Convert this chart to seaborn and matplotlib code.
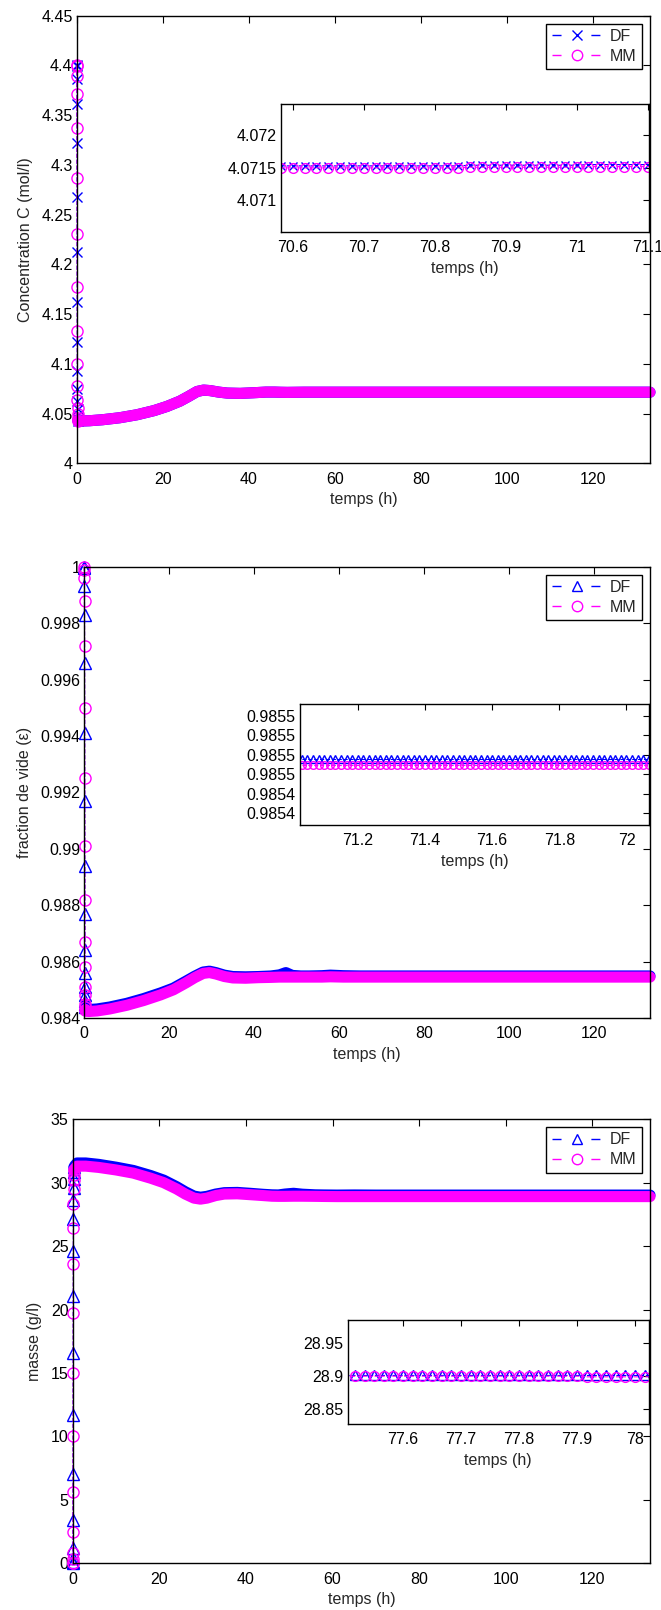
import numpy as np
import matplotlib
matplotlib.use("Agg")
import matplotlib.pyplot as plt
from matplotlib.lines import Line2D
import seaborn as sns

sns.set_theme(style="white")
plt.rcParams['font.family'] = ['Liberation Sans', 'DejaVu Sans']

# ---------------- données ----------------
# début du transitoire (t en h, pas d'une minute)
t_early = [0, 0.017, 0.033, 0.05, 0.067, 0.083, 0.1, 0.117, 0.133, 0.15,
           0.167, 0.183, 0.2, 0.217, 0.233, 0.25]
# reste de la courbe (bande épaisse de marqueurs)
t_band = [0.5, 1, 3, 6, 10, 14, 18, 21, 24, 26, 28, 29.5, 31, 33, 35,
          38, 41, 44, 46, 47.5, 49, 51, 53, 56, 58, 61, 65, 70, 80, 90,
          100, 110, 120, 133.3]

# concentration C (mol/l)
c_df_early = [4.4, 4.399, 4.386, 4.361, 4.322, 4.268, 4.212, 4.162, 4.122, 4.093,
              4.075, 4.063, 4.055, 4.049, 4.045, 4.043]
c_mm_early = [4.4, 4.399, 4.389, 4.371, 4.337, 4.287, 4.231, 4.177, 4.133, 4.1,
              4.078, 4.064, 4.056, 4.05, 4.046, 4.043]
# DF et MM confondus sur cette partie
c_band = [4.0428, 4.0425, 4.0428, 4.0438, 4.0458, 4.0488, 4.0530, 4.0572, 4.0625, 4.0672,
          4.0722, 4.0736, 4.0731, 4.0716, 4.0706, 4.0703, 4.0709, 4.0716, 4.0716, 4.0714,
          4.0713, 4.0714, 4.0715, 4.0715, 4.0715, 4.0715, 4.0715, 4.0715, 4.0715, 4.0715,
          4.0715, 4.0715, 4.0715, 4.0715]

# fraction de vide
e_df_early = [1.0, 0.99995, 0.9993, 0.9983, 0.9966, 0.9941, 0.9917, 0.9894, 0.9877, 0.9864,
              0.9856, 0.9851, 0.9848, 0.9846, 0.9845, 0.9844]
e_mm_early = [1.0, 0.9999, 0.9996, 0.9988, 0.9972, 0.9950, 0.9925, 0.9901, 0.9882, 0.9867,
              0.9858, 0.9851, 0.9848, 0.9845, 0.9844, 0.9843]
e_df_band = [0.98432, 0.98430, 0.98432, 0.98439, 0.98452, 0.98469, 0.98489, 0.98506, 0.98531, 0.98548,
             0.98563, 0.98566, 0.98561, 0.98552, 0.98547, 0.98546, 0.98547, 0.98549, 0.98553, 0.98561,
             0.98551, 0.98549, 0.98549, 0.98550, 0.98552, 0.98550, 0.98549, 0.98549, 0.98549, 0.98549,
             0.98549, 0.98549, 0.98549, 0.98549]
e_mm_band = [0.98425, 0.98423, 0.98425, 0.98432, 0.98445, 0.98462, 0.98482, 0.98500, 0.98525, 0.98543,
             0.98558, 0.98561, 0.98556, 0.98547, 0.98542, 0.98541, 0.98543, 0.98544, 0.98545, 0.98545,
             0.98545, 0.98545, 0.98545, 0.98545, 0.98546, 0.98545, 0.98545, 0.98545, 0.98545, 0.98545,
             0.98545, 0.98545, 0.98545, 0.98545]

# masse (g/l)
m_df_early = [0, 0.1, 0.4, 1.2, 3.4, 7.0, 11.7, 16.6, 21.1, 24.6, 27.1, 28.6, 29.6, 30.3, 30.8, 31.2]
m_mm_early = [0, 0.05, 0.3, 0.8, 2.5, 5.6, 10.0, 15.0, 19.7, 23.6, 26.4, 28.3, 29.5, 30.2, 30.6, 31.0]
m_df_band = [31.35, 31.55, 31.55, 31.44, 31.22, 30.96, 30.56, 30.2, 29.68, 29.28,
             28.94, 28.85, 28.92, 29.1, 29.21, 29.23, 29.16, 29.08, 29.04, 29.03,
             29.1, 29.16, 29.09, 29.04, 29.03, 29.02, 29.03, 29.02, 29.02, 29.02,
             29.02, 29.02, 29.02, 29.02]
m_mm_band = [31.1, 31.3, 31.3, 31.2, 31.0, 30.75, 30.35, 30.0, 29.5, 29.1,
             28.78, 28.7, 28.78, 28.98, 29.1, 29.12, 29.05, 28.98, 28.93, 28.92,
             28.92, 28.93, 28.93, 28.92, 28.91, 28.9, 28.9, 28.9, 28.9, 28.9,
             28.9, 28.9, 28.9, 28.9]

# zooms (une valeur par minute)
z1_min = (4235, 4267)
z1_df = [4.07153, 4.07153, 4.07153, 4.07153, 4.07153, 4.07153, 4.07153, 4.07153, 4.07153, 4.07153, 4.07153,
         4.07153, 4.07153, 4.07153, 4.07153, 4.07153, 4.07154, 4.07154, 4.07154, 4.07154, 4.07154, 4.07154,
         4.07154, 4.07154, 4.07154, 4.07154, 4.07155, 4.07155, 4.07155, 4.07155, 4.07155, 4.07155, 4.07155]
z1_mm = [4.07150, 4.07150, 4.07150, 4.07150, 4.07150, 4.07150, 4.07150, 4.07150, 4.07150, 4.07150, 4.07150,
         4.07150, 4.07150, 4.07150, 4.07150, 4.07150, 4.07151, 4.07151, 4.07151, 4.07151, 4.07151, 4.07151,
         4.07151, 4.07151, 4.07151, 4.07151, 4.07152, 4.07152, 4.07152, 4.07152, 4.07152, 4.07152, 4.07152]

z2_min = (4261, 4325)
z2_df = [0.985458, 0.985458, 0.985458, 0.985458, 0.985458, 0.985458, 0.985458, 0.985458, 0.985458, 0.985458, 0.985458, 0.985458, 0.985458,
         0.985458, 0.985458, 0.985458, 0.985458, 0.985458, 0.985458, 0.985458, 0.985458, 0.985458, 0.985458, 0.985458, 0.985458, 0.985458,
         0.985458, 0.985458, 0.985458, 0.985458, 0.985458, 0.985458, 0.985458, 0.985458, 0.985458, 0.985458, 0.985458, 0.985458, 0.985458,
         0.985458, 0.985458, 0.985458, 0.985458, 0.985458, 0.985458, 0.985458, 0.985458, 0.985458, 0.985458, 0.985458, 0.985458, 0.985458,
         0.985458, 0.985458, 0.985458, 0.985458, 0.985458, 0.985458, 0.985458, 0.985458, 0.985458, 0.985458, 0.985458, 0.985458, 0.985458]
z2_mm = [0.985455, 0.985455, 0.985455, 0.985455, 0.985455, 0.985455, 0.985455, 0.985455, 0.985455, 0.985455, 0.985455, 0.985455, 0.985455,
         0.985455, 0.985455, 0.985455, 0.985455, 0.985455, 0.985455, 0.985455, 0.985455, 0.985455, 0.985455, 0.985455, 0.985455, 0.985455,
         0.985455, 0.985455, 0.985455, 0.985455, 0.985455, 0.985455, 0.985455, 0.985455, 0.985455, 0.985455, 0.985455, 0.985455, 0.985455,
         0.985455, 0.985455, 0.985455, 0.985455, 0.985455, 0.985455, 0.985455, 0.985455, 0.985455, 0.985455, 0.985455, 0.985455, 0.985455,
         0.985455, 0.985455, 0.985455, 0.985455, 0.985455, 0.985455, 0.985455, 0.985455, 0.985455, 0.985455, 0.985455, 0.985455, 0.985455]

z3_min = (4650, 4682)
z3_df = [28.902, 28.902, 28.902, 28.902, 28.902, 28.902, 28.902, 28.902, 28.902, 28.902, 28.902,
         28.902, 28.902, 28.902, 28.902, 28.902, 28.902, 28.902, 28.902, 28.902, 28.902, 28.902,
         28.902, 28.902, 28.902, 28.902, 28.902, 28.902, 28.902, 28.902, 28.902, 28.902, 28.902]
z3_mm = [28.900, 28.900, 28.900, 28.900, 28.900, 28.900, 28.900, 28.900, 28.900, 28.900, 28.900,
         28.900, 28.900, 28.900, 28.900, 28.900, 28.900, 28.900, 28.900, 28.900, 28.900, 28.900,
         28.900, 28.900, 28.900, 28.899, 28.899, 28.899, 28.899, 28.899, 28.899, 28.899, 28.899]

# graduations
x_ticks = [0, 20, 40, 60, 80, 100, 120]
c_ticks = [4, 4.05, 4.1, 4.15, 4.2, 4.25, 4.3, 4.35, 4.4, 4.45]
c_labels = ['4', '4.05', '4.1', '4.15', '4.2', '4.25', '4.3', '4.35', '4.4', '4.45']
e_ticks = [0.984, 0.986, 0.988, 0.99, 0.992, 0.994, 0.996, 0.998, 1.0]
e_labels = ['0.984', '0.986', '0.988', '0.99', '0.992', '0.994', '0.996', '0.998', '1']
m_ticks = [0, 5, 10, 15, 20, 25, 30, 35]
z1_xticks = [70.6, 70.7, 70.8, 70.9, 71.0, 71.1]
z1_xlabels = ['70.6', '70.7', '70.8', '70.9', '71', '71.1']
z1_yticks = [4.071, 4.0715, 4.072]
z1_ylabels = ['4.071', '4.0715', '4.072']
z2_xticks = [71.2, 71.4, 71.6, 71.8, 72.0]
z2_xlabels = ['71.2', '71.4', '71.6', '71.8', '72']
z2_yticks = [0.98543, 0.98544, 0.98545, 0.98546, 0.98547, 0.98548]
z2_ylabels = ['0.9854', '0.9854', '0.9855', '0.9855', '0.9855', '0.9855']
z3_xticks = [77.6, 77.7, 77.8, 77.9, 78.0]
z3_xlabels = ['77.6', '77.7', '77.8', '77.9', '78']
z3_yticks = [28.85, 28.9, 28.95]
z3_ylabels = ['28.85', '28.9', '28.95']

BLUE = (0, 0, 1)
MAG = (1, 0, 1)
FS = 11.5

W, H = 661, 1610
fig = plt.figure(figsize=(W / 100, H / 100), dpi=100)


def rect(l, t, r, b):
    # position en pixels -> fraction de figure
    return [l / W, 1 - b / H, (r - l) / W, (b - t) / H]


def style(ax, ticklen):
    ax.set_facecolor('white')
    for s in ax.spines.values():
        s.set_visible(True)
        s.set_color('black')
        s.set_linewidth(1.0)
    ax.tick_params(direction='in', length=ticklen, width=0.8, top=True, right=True,
                   labelsize=FS, pad=3, colors='black')
    ax.tick_params(axis='x', pad=6)


def draw_main(ax, df_early, df_band, mm_early, mm_band, df_marker):
    n = len(t_early)
    for ye, yb, col, mk in [(df_early, df_band, BLUE, df_marker), (mm_early, mm_band, MAG, 'o')]:
        ms = 6.5 if mk == 'x' else 8
        sns.lineplot(x=t_early + t_band, y=ye + yb, ax=ax, color=col, linestyle='--', linewidth=0.8,
                     marker=mk, markersize=ms, markerfacecolor='none', markeredgecolor=col,
                     markeredgewidth=1.0, markevery=list(range(n)), estimator=None, sort=False,
                     legend=False, clip_on=False)
        sns.lineplot(x=t_early[-1:] + t_band, y=ye[-1:] + yb, ax=ax, color=col, linewidth=8,
                     solid_capstyle='round', estimator=None, sort=False, legend=False, clip_on=False)


def draw_zoom(ax, minutes, y_df, y_mm, df_marker, ms, xlim):
    t = np.arange(minutes[0], minutes[1] + 1) / 60.0
    keep = [i for i, v in enumerate(t) if xlim[0] <= v <= xlim[1] + 1e-9]
    for y, col, mk in [(y_df, BLUE, df_marker), (y_mm, MAG, 'o')]:
        size = ms - 1 if mk == 'x' else ms
        sns.lineplot(x=t, y=y, ax=ax, color=col, linestyle='--', linewidth=0.8, marker=mk,
                     markersize=size, markerfacecolor='none', markeredgecolor=col, markeredgewidth=1.0,
                     markevery=keep, estimator=None, sort=False, legend=False)
    ax.set_xlim(*xlim)


def add_legend(ax, df_marker):
    handles = [Line2D([], [], color=BLUE, linestyle=(0, (6.5, 21.5)), linewidth=1.0, marker=df_marker,
                      markersize=7 if df_marker == 'x' else 7.5, markerfacecolor='none', markeredgecolor=BLUE),
               Line2D([], [], color=MAG, linestyle=(0, (6.5, 21.5)), linewidth=1.0, marker='o',
                      markersize=7.5, markerfacecolor='none', markeredgecolor=MAG)]
    leg = ax.legend(handles, ['DF', 'MM'], loc='upper right', fontsize=FS, frameon=True,
                    fancybox=False, edgecolor='black', facecolor='white', framealpha=1,
                    borderaxespad=0.5, borderpad=0.33, labelspacing=0.3,
                    handlelength=3.2, handletextpad=0.45)
    leg.get_frame().set_linewidth(1.0)


# ---------------- concentration ----------------
ax1 = fig.add_axes(rect(76.7, 15.7, 650, 463.3))
draw_main(ax1, c_df_early, c_band, c_mm_early, c_band, 'x')
ax1.set_xlim(0, 133.3)
ax1.set_ylim(4, 4.45)
ax1.set_xticks(x_ticks, [str(v) for v in x_ticks])
ax1.set_yticks(c_ticks, c_labels)
ax1.set_xlabel('temps (h)', fontsize=FS, labelpad=4)
ax1.set_ylabel('Concentration C (mol/l)', fontsize=FS, labelpad=6)
style(ax1, 5)
add_legend(ax1, 'x')

in1 = fig.add_axes(rect(280.7, 104, 649, 231.7))
draw_zoom(in1, z1_min, z1_df, z1_mm, 'x', 7, (70.583, 71.102))
in1.set_ylim(4.07052, 4.07248)
in1.set_xticks(z1_xticks, z1_xlabels)
in1.set_yticks(z1_yticks, z1_ylabels)
in1.set_xlabel('temps (h)', fontsize=FS, labelpad=4)
in1.set_ylabel('')
style(in1, 4)

# ---------------- fraction de vide ----------------
ax2 = fig.add_axes(rect(84.3, 566.7, 650, 1018))
draw_main(ax2, e_df_early, e_df_band, e_mm_early, e_mm_band, '^')
ax2.set_xlim(0, 133.3)
ax2.set_ylim(0.984, 1.0)
ax2.set_xticks(x_ticks, [str(v) for v in x_ticks])
ax2.set_yticks(e_ticks, e_labels)
ax2.set_xlabel('temps (h)', fontsize=FS, labelpad=4)
ax2.set_ylabel('fraction de vide (ε)', fontsize=FS, labelpad=6)
style(ax2, 5)
add_legend(ax2, '^')

in2 = fig.add_axes(rect(300, 704.3, 649, 825))
draw_zoom(in2, z2_min, z2_df, z2_mm, '^', 5.5, (71.028, 72.067))
in2.set_ylim(0.985424, 0.985486)
in2.set_xticks(z2_xticks, z2_xlabels)
in2.set_yticks(z2_yticks, z2_ylabels)
in2.set_xlabel('temps (h)', fontsize=FS, labelpad=4)
in2.set_ylabel('')
style(in2, 4)

# ---------------- masse ----------------
ax3 = fig.add_axes(rect(72.7, 1119.2, 650, 1563.3))
draw_main(ax3, m_df_early, m_df_band, m_mm_early, m_mm_band, '^')
ax3.set_xlim(0, 133.3)
ax3.set_ylim(0, 35)
ax3.set_xticks(x_ticks, [str(v) for v in x_ticks])
ax3.set_yticks(m_ticks, [str(v) for v in m_ticks])
ax3.set_xlabel('temps (h)', fontsize=FS, labelpad=4)
ax3.set_ylabel('masse (g/l)', fontsize=FS, labelpad=6)
style(ax3, 5)
add_legend(ax3, '^')

in3 = fig.add_axes(rect(347.5, 1319.5, 649, 1423.7))
draw_zoom(in3, z3_min, z3_df, z3_mm, '^', 7, (77.504, 78.024))
in3.set_ylim(28.8276, 28.9863)
in3.set_xticks(z3_xticks, z3_xlabels)
in3.set_yticks(z3_yticks, z3_ylabels)
in3.set_xlabel('temps (h)', fontsize=FS, labelpad=4)
in3.set_ylabel('')
style(in3, 4)

fig.savefig('out.png', dpi=100)
